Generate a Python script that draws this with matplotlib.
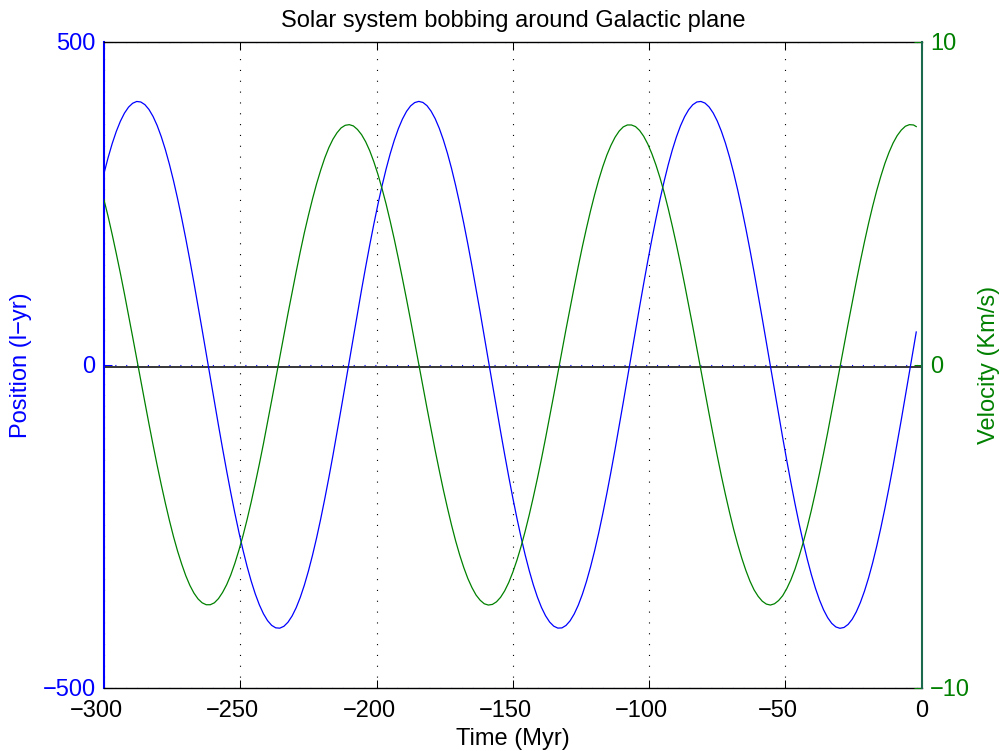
import matplotlib
matplotlib.use('Agg')
import matplotlib.pyplot as plt
from matplotlib.transforms import ScaledTranslation

plt.rcParams['font.family'] = ['Liberation Sans', 'DejaVu Sans']
plt.rcParams['lines.scale_dashes'] = False
plt.rcParams['axes.unicode_minus'] = True

# ---- data ----
time_myr = [
    -300, -298.5, -297, -295.5, -294, -292.5, -291, -289.5, -288, -286.5,
    -285, -283.5, -282, -280.5, -279, -277.5, -276, -274.5, -273, -271.5,
    -270, -268.5, -267, -265.5, -264, -262.5, -261, -259.5, -258, -256.5,
    -255, -253.5, -252, -250.5, -249, -247.5, -246, -244.5, -243, -241.5,
    -240, -238.5, -237, -235.5, -234, -232.5, -231, -229.5, -228, -226.5,
    -225, -223.5, -222, -220.5, -219, -217.5, -216, -214.5, -213, -211.5,
    -210, -208.5, -207, -205.5, -204, -202.5, -201, -199.5, -198, -196.5,
    -195, -193.5, -192, -190.5, -189, -187.5, -186, -184.5, -183, -181.5,
    -180, -178.5, -177, -175.5, -174, -172.5, -171, -169.5, -168, -166.5,
    -165, -163.5, -162, -160.5, -159, -157.5, -156, -154.5, -153, -151.5,
    -150, -148.5, -147, -145.5, -144, -142.5, -141, -139.5, -138, -136.5,
    -135, -133.5, -132, -130.5, -129, -127.5, -126, -124.5, -123, -121.5,
    -120, -118.5, -117, -115.5, -114, -112.5, -111, -109.5, -108, -106.5,
    -105, -103.5, -102, -100.5, -99, -97.5, -96, -94.5, -93, -91.5,
    -90, -88.5, -87, -85.5, -84, -82.5, -81, -79.5, -78, -76.5,
    -75, -73.5, -72, -70.5, -69, -67.5, -66, -64.5, -63, -61.5,
    -60, -58.5, -57, -55.5, -54, -52.5, -51, -49.5, -48, -46.5,
    -45, -43.5, -42, -40.5, -39, -37.5, -36, -34.5, -33, -31.5,
    -30, -28.5, -27, -25.5, -24, -22.5, -21, -19.5, -18, -16.5,
    -15, -13.5, -12, -10.5, -9, -7.5, -6, -4.5, -3, -2]

position_lyr = [
    296.5, 320.8, 342.6, 361.4, 377.2, 389.8, 399.1, 405.1, 407.9, 407.1,
    403.0, 395.5, 384.7, 370.7, 353.5, 333.5, 310.6, 285.2, 257.3, 227.3,
    195.5, 162.0, 127.1, 91.2, 54.5, 17.4, -19.9, -57.0, -93.7, -129.6,
    -164.3, -197.7, -229.5, -259.3, -287.0, -312.3, -334.9, -354.8, -371.7, -385.5,
    -396.1, -403.4, -407.3, -407.8, -404.9, -398.6, -389.0, -376.2, -360.2, -341.2,
    -319.3, -294.8, -267.9, -238.7, -207.4, -174.5, -140.1, -104.5, -68.0, -31.0,
    6.2, 43.4, 80.3, 116.5, 151.7, 185.7, 218.0, 248.6, 277.1, 303.3,
    326.9, 347.8, 365.8, 380.7, 392.6, 401.1, 406.2, 408.0, 406.4, 401.4,
    392.9, 381.3, 366.4, 348.5, 327.7, 304.2, 278.0, 249.6, 219.1, 186.8,
    152.8, 117.6, 81.6, 44.8, 7.5, -29.8, -66.8, -103.3, -138.9, -173.4,
    -206.3, -237.6, -266.9, -294.0, -318.5, -340.5, -359.6, -375.7, -388.6, -398.3,
    -404.7, -407.7, -407.4, -403.6, -396.4, -385.9, -372.2, -355.4, -335.6, -313.0,
    -287.9, -260.3, -230.5, -198.8, -165.5, -130.8, -94.9, -58.3, -21.2, 16.1,
    53.2, 89.9, 125.9, 160.8, 194.4, 226.3, 256.3, 284.2, 309.8, 332.7,
    352.9, 370.1, 384.2, 395.1, 402.8, 407.1, 407.9, 405.4, 399.4, 390.1,
    377.6, 361.9, 343.3, 321.7, 297.4, 270.7, 241.7, 210.7, 177.9, 143.6,
    108.2, 71.9, 34.9, -2.3, -39.6, -76.5, -112.8, -148.1, -182.2, -214.8,
    -245.5, -274.2, -300.7, -324.6, -345.8, -364.1, -379.4, -391.5, -400.4, -405.9,
    -408.0, -406.7, -402.0, -394.0, -382.6, -368.1, -350.5, -330.0, -306.7, -280.8,
    -252.6, -222.3, -190.2, -156.5, -121.3, -85.3, -48.5, -11.3, 26.0, 50.9]

velocity_kms = [
    5.11, 4.60, 4.04, 3.45, 2.84, 2.20, 1.54, 0.87, 0.19, -0.49,
    -1.16, -1.83, -2.48, -3.11, -3.71, -4.28, -4.82, -5.32, -5.77, -6.17,
    -6.53, -6.83, -7.07, -7.25, -7.37, -7.43, -7.43, -7.37, -7.24, -7.05,
    -6.81, -6.51, -6.15, -5.74, -5.29, -4.79, -4.25, -3.67, -3.07, -2.44,
    -1.78, -1.11, -0.44, 0.24, 0.92, 1.59, 2.24, 2.88, 3.50, 4.09,
    4.63, 5.14, 5.61, 6.03, 6.41, 6.73, 6.99, 7.19, 7.34, 7.42,
    7.44, 7.40, 7.29, 7.13, 6.91, 6.63, 6.29, 5.90, 5.46, 4.98,
    4.45, 3.89, 3.29, 2.67, 2.03, 1.37, 0.69, 0.01, -0.67, -1.34,
    -2.00, -2.65, -3.27, -3.87, -4.43, -4.96, -5.45, -5.89, -6.28, -6.62,
    -6.90, -7.13, -7.29, -7.40, -7.44, -7.42, -7.34, -7.20, -7.00, -6.74,
    -6.42, -6.05, -5.63, -5.16, -4.65, -4.10, -3.52, -2.91, -2.27, -1.61,
    -0.94, -0.26, 0.42, 1.10, 1.76, 2.41, 3.05, 3.66, 4.23, 4.77,
    5.27, 5.73, 6.14, 6.50, 6.80, 7.05, 7.24, 7.37, 7.43, 7.43,
    7.38, 7.26, 7.08, 6.84, 6.54, 6.19, 5.79, 5.34, 4.84, 4.30,
    3.73, 3.13, 2.50, 1.85, 1.19, 0.51, -0.17, -0.85, -1.52, -2.18,
    -2.82, -3.44, -4.02, -4.57, -5.09, -5.56, -5.99, -6.37, -6.70, -6.97,
    -7.17, -7.32, -7.41, -7.44, -7.40, -7.30, -7.15, -6.93, -6.66, -6.33,
    -5.94, -5.51, -5.03, -4.51, -3.95, -3.36, -2.74, -2.10, -1.43, -0.76,
    -0.08, 0.60, 1.27, 1.93, 2.58, 3.21, 3.81, 4.38, 4.91, 5.40,
    5.84, 6.24, 6.58, 6.87, 7.10, 7.27, 7.39, 7.44, 7.43, 7.38]

x_ticks = [-300, -250, -200, -150, -100, -50, 0]
left_ticks = [-500, 0, 500]
right_ticks = [-10, 0, 10]
zero_line_y = -4

title = 'Solar system bobbing around Galactic plane'
xlabel = 'Time (Myr)'
ylabel_left = 'Position (l\u2212yr)'
ylabel_right = 'Velocity (Km/s)'

BLUE = (0, 0, 1)
GREEN = (0, 0.5, 0)
FS = 17
DOT = (0, (0.8, 7.0))

fig = plt.figure(figsize=(10.02, 7.51), dpi=100)
ax = fig.add_axes([104 / 1002, 1 - 687.7 / 751, 817.7 / 1002, 645.7 / 751])
ax2 = ax.twinx()

ax.plot(time_myr, position_lyr, color=BLUE, lw=0.9, zorder=3)
ax.axhline(zero_line_y, color='k', lw=1.1, zorder=2.5)
ax2.plot(time_myr, velocity_kms, color=GREEN, lw=0.9, zorder=3)

ax.set_xlim(-300, 0)
ax.set_ylim(-500, 500)
ax2.set_ylim(-10, 10)
ax.set_xticks(x_ticks)
ax.set_yticks(left_ticks)
ax2.set_yticks(right_ticks)

ax.xaxis.grid(True, color='k', linestyle=DOT, lw=0.8)
ax.yaxis.grid(True, color=BLUE, linestyle=DOT, lw=0.8)

ax.tick_params(axis='x', direction='in', length=5.9, width=0.75, top=True,
               labelsize=FS, pad=9.0, colors='k')
ax.tick_params(axis='y', direction='in', length=5.9, width=0.75,
               labelsize=FS, pad=6, colors=BLUE)
ax2.tick_params(axis='y', direction='in', length=5.9, width=0.75,
                labelsize=FS, pad=6, colors=GREEN)

# negative x tick labels sit a little left of their ticks in the reference
shift = ScaledTranslation(-7.5 / 100, 0, fig.dpi_scale_trans)
for tk, val in zip(ax.xaxis.get_major_ticks(), x_ticks):
    if val < 0:
        tk.label1.set_transform(tk.label1.get_transform() + shift)

for s in ['top', 'bottom']:
    ax.spines[s].set_color('k')
    ax.spines[s].set_linewidth(1.0)
    ax2.spines[s].set_visible(False)
ax.spines['left'].set_color(BLUE)
ax.spines['left'].set_linewidth(1.5)
ax.spines['right'].set_visible(False)
ax2.spines['left'].set_visible(False)
ax2.spines['right'].set_color((0.1, 0.42, 0.3))
ax2.spines['right'].set_linewidth(1.5)

ax.set_title(title, fontsize=FS, pad=11)
ax.set_xlabel(xlabel, fontsize=FS)
ax.xaxis.set_label_coords(0.5, -0.0624)
ax.set_ylabel(ylabel_left, fontsize=FS, color=BLUE)
ax.yaxis.set_label_coords(-0.0878, 0.5)
ax2.set_ylabel(ylabel_right, fontsize=FS, color=GREEN)
ax2.yaxis.set_label_coords(1.0692, 0.5)

fig.savefig('out.png', dpi=100)
